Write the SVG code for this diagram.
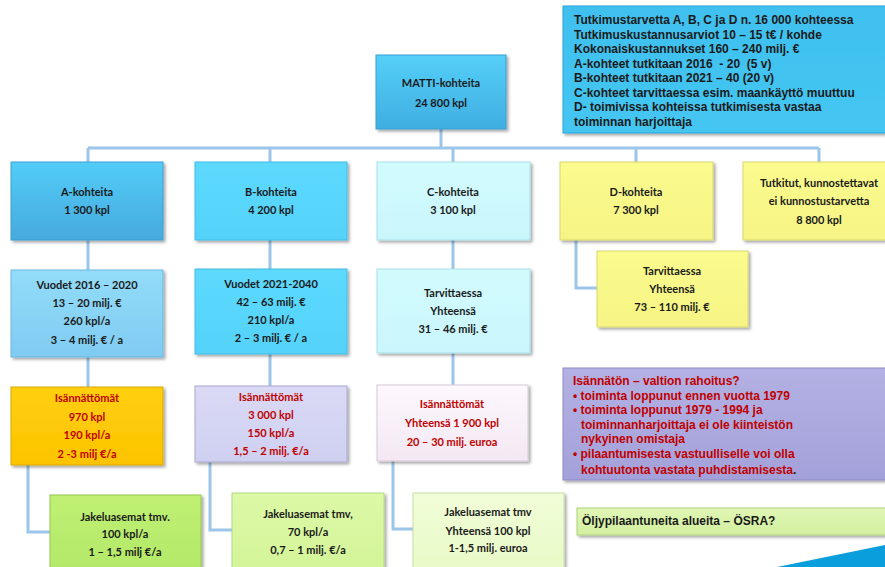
<svg xmlns="http://www.w3.org/2000/svg" width="885" height="567" viewBox="0 0 885 567">
<defs>
<filter id="sh" x="-10%" y="-10%" width="125%" height="130%">
<feDropShadow dx="2" dy="2" stdDeviation="1.6" flood-color="#000" flood-opacity="0.35"/>
</filter>
<linearGradient id="gMatti" x1="0" y1="0" x2="0" y2="1"><stop offset="0" stop-color="#55cff8"/><stop offset="1" stop-color="#3faee2"/></linearGradient>
<linearGradient id="gA" x1="0" y1="0" x2="0" y2="1"><stop offset="0" stop-color="#52cdf8"/><stop offset="1" stop-color="#47a9dd"/></linearGradient>
<linearGradient id="gB" x1="0" y1="0" x2="0" y2="1"><stop offset="0" stop-color="#5cd9fd"/><stop offset="1" stop-color="#55d2f9"/></linearGradient>
<linearGradient id="gC" x1="0" y1="0" x2="0" y2="1"><stop offset="0" stop-color="#d2fbfe"/><stop offset="1" stop-color="#c9f6fc"/></linearGradient>
<linearGradient id="gY" x1="0" y1="0" x2="0" y2="1"><stop offset="0" stop-color="#fbfb8e"/><stop offset="1" stop-color="#f5f484"/></linearGradient>
<linearGradient id="gA2" x1="0" y1="0" x2="0" y2="1"><stop offset="0" stop-color="#93dcf9"/><stop offset="1" stop-color="#7fcbf1"/></linearGradient>
<linearGradient id="gA3" x1="0" y1="0" x2="0" y2="1"><stop offset="0" stop-color="#ffcf10"/><stop offset="1" stop-color="#fcc400"/></linearGradient>
<linearGradient id="gB3" x1="0" y1="0" x2="0" y2="1"><stop offset="0" stop-color="#dadaf6"/><stop offset="1" stop-color="#cfcff1"/></linearGradient>
<linearGradient id="gC3" x1="0" y1="0" x2="0" y2="1"><stop offset="0" stop-color="#fdf8fd"/><stop offset="1" stop-color="#f3e8f3"/></linearGradient>
<linearGradient id="gA4" x1="0" y1="0" x2="0" y2="1"><stop offset="0" stop-color="#bff073"/><stop offset="1" stop-color="#b2e868"/></linearGradient>
<linearGradient id="gB4" x1="0" y1="0" x2="0" y2="1"><stop offset="0" stop-color="#dcf9a6"/><stop offset="1" stop-color="#d3f498"/></linearGradient>
<linearGradient id="gC4" x1="0" y1="0" x2="0" y2="1"><stop offset="0" stop-color="#f1fdd8"/><stop offset="1" stop-color="#e8fac6"/></linearGradient>
<linearGradient id="gInfo" x1="0" y1="0" x2="0" y2="1"><stop offset="0" stop-color="#3fc0ef"/><stop offset="1" stop-color="#45c6f2"/></linearGradient>
<linearGradient id="gPur" x1="0" y1="0" x2="0" y2="1"><stop offset="0" stop-color="#b3b1e3"/><stop offset="1" stop-color="#a3a1d9"/></linearGradient>
<linearGradient id="gOs" x1="0" y1="0" x2="0" y2="1"><stop offset="0" stop-color="#e0f7b4"/><stop offset="1" stop-color="#d2efa0"/></linearGradient>
</defs>
<style>
.box{filter:url(#sh);stroke-width:1}
.t{font-family:Lato,"Liberation Sans",sans-serif;font-weight:bold;font-size:11px;fill:#1a1a1a;text-anchor:middle}
.r{fill:#c00000}
.a{font-family:"Liberation Sans",Arial,sans-serif;font-weight:bold;font-size:12px;fill:#1a1a1a}
.ar{font-family:"Liberation Sans",Arial,sans-serif;font-weight:bold;font-size:12px;fill:#c00000}
.c{fill:none;stroke:#9cc5ea;stroke-width:3}
</style>
<rect width="885" height="567" fill="#ffffff"/>
<g id="connectors">
<path class="c" d="M441 129 V148 M88 148 H819 M88 148 V162 M270 148 V162 M453 148 V162 M636 148 V162 M819 148 V162"/>
<path class="c" d="M88 240 V270 M270 240 V269 M453 240 V269"/>
<path class="c" d="M576 240 V288 H597"/>
<path class="c" d="M88 357 V387 M270 354 V386 M453 353 V385"/>
<path class="c" d="M28 465 V532 H50 M210 462 V530 H232 M393 461 V529 H413"/>
</g>
<g id="info">
<rect class="box" x="563" y="6" width="330" height="127" fill="url(#gInfo)" stroke="#2fa4d8"/>
<text class="a" x="574" y="24">Tutkimustarvetta A, B, C ja D n. 16 000 kohteessa</text>
<text class="a" x="574" y="38.5">Tutkimuskustannusarviot 10 – 15 t€ / kohde</text>
<text class="a" x="574" y="53">Kokonaiskustannukset 160 – 240 milj. €</text>
<text class="a" x="574" y="67.5" xml:space="preserve">A-kohteet tutkitaan 2016  - 20  (5 v)</text>
<text class="a" x="574" y="82">B-kohteet tutkitaan 2021 – 40 (20 v)</text>
<text class="a" x="574" y="96.5">C-kohteet tarvittaessa esim. maankäyttö muuttuu</text>
<text class="a" x="574" y="111">D- toimivissa kohteissa tutkimisesta vastaa</text>
<text class="a" x="574" y="125.5">toiminnan harjoittaja</text>
</g>
<g id="matti">
<rect class="box" x="376" y="55" width="130" height="74" fill="url(#gMatti)" stroke="#3a9fd2"/>
<text class="t" x="441" y="87">MATTI-kohteita</text>
<text class="t" x="441" y="107">24 800 kpl</text>
</g>
<g id="a1">
<rect class="box" x="11" y="162" width="152" height="78" fill="url(#gA)" stroke="#3d9fd2"/>
<text class="t" x="87" y="196">A-kohteita</text>
<text class="t" x="87" y="214">1 300 kpl</text>
</g>
<g id="b1">
<rect class="box" x="195" y="162" width="152" height="78" fill="url(#gB)" stroke="#45bde6"/>
<text class="t" x="271" y="196">B-kohteita</text>
<text class="t" x="271" y="214">4 200 kpl</text>
</g>
<g id="c1">
<rect class="box" x="377" y="162" width="153" height="78" fill="url(#gC)" stroke="#a9dfe8"/>
<text class="t" x="453" y="196">C-kohteita</text>
<text class="t" x="453" y="214">3 100 kpl</text>
</g>
<g id="d1">
<rect class="box" x="560" y="162" width="153" height="78" fill="url(#gY)" stroke="#d8d770"/>
<text class="t" x="636" y="196">D-kohteita</text>
<text class="t" x="636" y="214">7 300 kpl</text>
</g>
<g id="e1">
<rect class="box" x="743" y="162" width="152" height="78" fill="url(#gY)" stroke="#d8d770"/>
<text class="t" x="819" y="187">Tutkitut, kunnostettavat</text>
<text class="t" x="819" y="205">ei kunnostustarvetta</text>
<text class="t" x="819" y="224">8 800 kpl</text>
</g>
<g id="a2">
<rect class="box" x="11" y="270" width="152" height="87" fill="url(#gA2)" stroke="#6cb7df"/>
<text class="t" x="87" y="289">Vuodet 2016 – 2020</text>
<text class="t" x="87" y="307">13 – 20 milj. €</text>
<text class="t" x="87" y="325">260 kpl/a</text>
<text class="t" x="87" y="344">3 – 4 milj. € / a</text>
</g>
<g id="b2">
<rect class="box" x="195" y="269" width="152" height="85" fill="url(#gB)" stroke="#45bde6"/>
<text class="t" x="271" y="288">Vuodet 2021-2040</text>
<text class="t" x="271" y="306">42 – 63 milj. €</text>
<text class="t" x="271" y="324">210 kpl/a</text>
<text class="t" x="271" y="342">2 – 3 milj. € / a</text>
</g>
<g id="c2">
<rect class="box" x="377" y="269" width="153" height="84" fill="url(#gC)" stroke="#a9dfe8"/>
<text class="t" x="453" y="297">Tarvittaessa</text>
<text class="t" x="453" y="315">Yhteensä</text>
<text class="t" x="453" y="333">31 – 46 milj. €</text>
</g>
<g id="d2">
<rect class="box" x="597" y="251" width="151" height="76" fill="url(#gY)" stroke="#d8d770"/>
<text class="t" x="672" y="275">Tarvittaessa</text>
<text class="t" x="672" y="293">Yhteensä</text>
<text class="t" x="672" y="311">73 – 110 milj. €</text>
</g>
<g id="a3">
<rect class="box" x="11" y="387" width="152" height="78" fill="url(#gA3)" stroke="#d9a800"/>
<text class="t r" x="87" y="402">Isännättömät</text>
<text class="t r" x="87" y="421">970 kpl</text>
<text class="t r" x="87" y="439">190 kpl/a</text>
<text class="t r" x="87" y="458">2 -3 milj €/a</text>
</g>
<g id="b3">
<rect class="box" x="195" y="386" width="152" height="76" fill="url(#gB3)" stroke="#a8a8cc"/>
<text class="t r" x="271" y="401">Isännättömät</text>
<text class="t r" x="271" y="419">3 000 kpl</text>
<text class="t r" x="271" y="437">150 kpl/a</text>
<text class="t r" x="271" y="455">1,5 – 2 milj. €/a</text>
</g>
<g id="c3">
<rect class="box" x="377" y="385" width="151" height="76" fill="url(#gC3)" stroke="#d8c8d8"/>
<text class="t r" x="452" y="408">Isännättömät</text>
<text class="t r" x="452" y="427">Yhteensä 1 900 kpl</text>
<text class="t r" x="452" y="446">20 – 30 milj. euroa</text>
</g>
<g id="valtio">
<rect class="box" x="563" y="368" width="330" height="112" fill="url(#gPur)" stroke="#8d8bc6"/>
<text class="ar" x="573" y="385">Isännätön – valtion rahoitus?</text>
<text class="ar" x="573" y="399.5">• toiminta loppunut ennen vuotta 1979</text>
<text class="ar" x="573" y="414">• toiminta loppunut 1979 - 1994 ja</text>
<text class="ar" x="581" y="428.5">toiminnanharjoittaja ei ole kiinteistön</text>
<text class="ar" x="581" y="443">nykyinen omistaja</text>
<text class="ar" x="573" y="458">• pilaantumisesta vastuulliselle voi olla</text>
<text class="ar" x="581" y="473.5">kohtuutonta vastata puhdistamisesta<tspan fill="#1a1a1a">.</tspan></text>
</g>
<g id="a4">
<rect class="box" x="50" y="495" width="151" height="80" fill="url(#gA4)" stroke="#94c850"/>
<text class="t" x="125" y="521">Jakeluasemat tmv.</text>
<text class="t" x="125" y="538">100 kpl/a</text>
<text class="t" x="125" y="556">1 – 1,5 milj €/a</text>
</g>
<g id="b4">
<rect class="box" x="232" y="493" width="152" height="82" fill="url(#gB4)" stroke="#b4d888"/>
<text class="t" x="308" y="518">Jakeluasemat tmv,</text>
<text class="t" x="308" y="536">70 kpl/a</text>
<text class="t" x="308" y="554">0,7 – 1 milj. €/a</text>
</g>
<g id="c4">
<rect class="box" x="413" y="493" width="151" height="82" fill="url(#gC4)" stroke="#c8e0a8"/>
<text class="t" x="488" y="516">Jakeluasemat tmv</text>
<text class="t" x="488" y="535">Yhteensä 100 kpl</text>
<text class="t" x="488" y="552">1-1,5 milj. euroa</text>
</g>
<g id="osra">
<rect class="box" x="577" y="508" width="316" height="27" fill="url(#gOs)" stroke="#b0d080"/>
<text class="a" x="582" y="525">Öljypilaantuneita alueita – ÖSRA?</text>
</g>
<polygon points="777,567 885,545 885,567" fill="#0a9fdc"/>
</svg>
